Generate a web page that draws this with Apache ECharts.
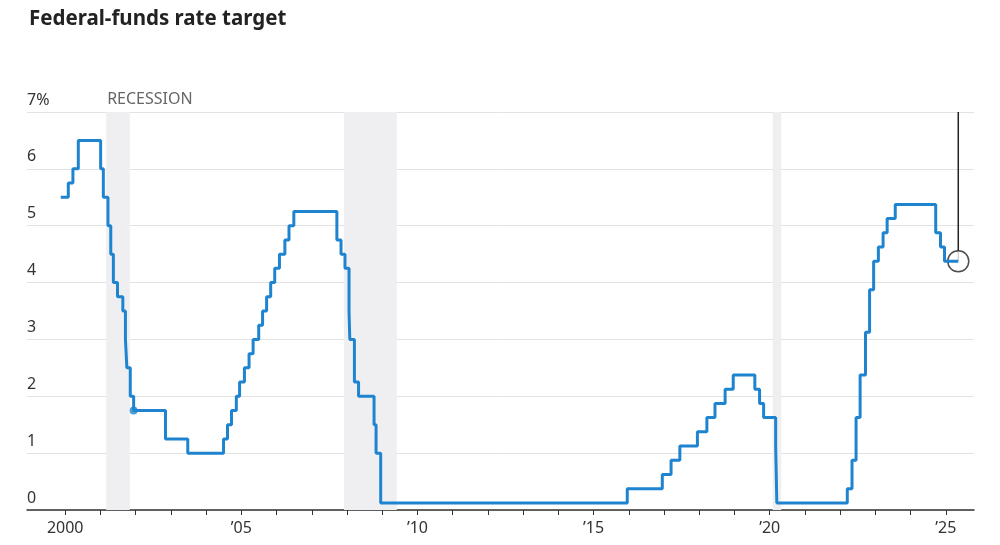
<!DOCTYPE html>
<html>
<head>
<meta charset="utf-8">
<title>Federal-funds rate target</title>
<script src="https://cdn.jsdelivr.net/npm/echarts@6/dist/echarts.min.js"></script>
<style>
  html, body { margin: 0; padding: 0; background: #fff; }
  #chart { width: 1000px; height: 545px; }
</style>
</head>
<body>
<div id="chart"></div>
<script>
// dates when the target changed, and the rate (midpoint of range after 2008) from that date on
var changeDates = [
    '1999-11-16', '2000-02-02', '2000-03-21', '2000-05-16',
    '2001-01-03', '2001-01-31', '2001-03-20', '2001-04-18', '2001-05-15', '2001-06-27',
    '2001-08-21', '2001-09-17', '2001-10-02', '2001-11-06', '2001-12-11',
    '2002-11-06', '2003-06-25',
    '2004-06-30', '2004-08-10', '2004-09-21', '2004-11-10', '2004-12-14',
    '2005-02-02', '2005-03-22', '2005-05-03', '2005-06-30', '2005-08-09', '2005-09-20',
    '2005-11-01', '2005-12-13', '2006-01-31', '2006-03-28', '2006-05-10', '2006-06-29',
    '2007-09-18', '2007-10-31', '2007-12-11', '2008-01-22', '2008-01-30', '2008-03-18',
    '2008-04-30', '2008-10-08', '2008-10-29', '2008-12-16',
    '2015-12-16', '2016-12-14', '2017-03-15', '2017-06-14', '2017-12-13',
    '2018-03-21', '2018-06-13', '2018-09-26', '2018-12-19',
    '2019-07-31', '2019-09-18', '2019-10-30', '2020-03-03', '2020-03-15',
    '2022-03-16', '2022-05-04', '2022-06-15', '2022-07-27', '2022-09-21', '2022-11-02',
    '2022-12-14', '2023-02-01', '2023-03-22', '2023-05-03', '2023-07-26',
    '2024-09-18', '2024-11-07', '2024-12-18', '2025-05-10'
];
var targetRates = [
    5.5, 5.75, 6.0, 6.5,
    6.0, 5.5, 5.0, 4.5, 4.0, 3.75,
    3.5, 3.0, 2.5, 2.0, 1.75,
    1.25, 1.0,
    1.25, 1.5, 1.75, 2.0, 2.25,
    2.5, 2.75, 3.0, 3.25, 3.5, 3.75,
    4.0, 4.25, 4.5, 4.75, 5.0, 5.25,
    4.75, 4.5, 4.25, 3.5, 3.0, 2.25,
    2.0, 1.5, 1.0, 0.125,
    0.375, 0.625, 0.875, 1.125, 1.375,
    1.625, 1.875, 2.125, 2.375,
    2.125, 1.875, 1.625, 1.125, 0.125,
    0.375, 0.875, 1.625, 2.375, 3.125, 3.875,
    4.375, 4.625, 4.875, 5.125, 5.375,
    4.875, 4.625, 4.375, 4.375
];

var recessionStarts = ['2001-03-01', '2007-12-01', '2020-02-01'];
var recessionEnds = ['2001-11-01', '2009-06-01', '2020-04-30'];

var tickYears = [2000, 2001, 2002, 2003, 2004, 2005, 2006, 2007, 2008, 2009, 2010, 2011, 2012,
    2013, 2014, 2015, 2016, 2017, 2018, 2019, 2020, 2021, 2022, 2023, 2024, 2025];
var labelYears = [2000, 2005, 2010, 2015, 2020, 2025];
var labelTexts = ['2000', '\u201905', '\u201910', '\u201915', '\u201920', '\u201925'];

var axisStart = '1998-12-01';
var axisEnd = '2025-10-20';

var dotDate = '2001-12-11';
var dotRate = 1.75;
var yTop = 7;

// date string -> fractional year, so the x axis can be a plain value axis
function toYear(s) {
    var p = s.split('-').map(Number);
    var t = Date.UTC(p[0], p[1] - 1, p[2]);
    var a = Date.UTC(p[0], 0, 1);
    var b = Date.UTC(p[0] + 1, 0, 1);
    return p[0] + (t - a) / (b - a);
}

var rateData = changeDates.map(function (d, i) { return [toYear(d), targetRates[i]]; });
var latestX = toYear(changeDates[changeDates.length - 1]);
var latestRate = targetRates[targetRates.length - 1];

var areas = recessionStarts.map(function (s, i) {
    var a = [{ xAxis: toYear(s) }, { xAxis: toYear(recessionEnds[i]) }];
    if (i === 0) {
        a[0].label = {
            show: true,
            position: [1, -21],
            formatter: 'RECESSION',
            color: '#666',
            fontSize: 16,
            fontFamily: 'Noto Sans'
        };
    }
    return a;
});

var myChart = echarts.init(document.getElementById('chart'));

var option = {
    animation: false,
    title: {
        text: 'Federal-funds rate target',
        left: 24,
        top: 4,
        textStyle: {
            fontFamily: 'Noto Sans',
            fontWeight: 'bold',
            fontSize: 20.5,
            color: '#222'
        }
    },
    grid: {
        left: 27,
        right: 26,
        top: 112,
        bottom: 35
    },
    xAxis: {
        type: 'value',
        min: toYear(axisStart),
        max: toYear(axisEnd),
        axisLine: { lineStyle: { color: '#333', width: 1.5 } },
        axisTick: {
            show: true,
            length: 5,
            customValues: tickYears,
            lineStyle: { color: '#333', width: 1 }
        },
        axisLabel: {
            customValues: labelYears,
            formatter: function (v) {
                var k = labelYears.indexOf(Math.round(v));
                return k >= 0 ? labelTexts[k] : '';
            },
            margin: 10,
            color: '#333',
            fontSize: 16,
            fontFamily: 'Noto Sans'
        },
        splitLine: { show: false }
    },
    yAxis: {
        type: 'value',
        min: 0,
        max: yTop,
        interval: 1,
        axisLine: { show: false },
        axisTick: { show: false },
        axisLabel: {
            inside: true,
            margin: 0,
            verticalAlign: 'bottom',
            padding: [0, 0, 4, 0],
            color: '#333',
            fontSize: 16,
            fontFamily: 'Noto Sans',
            formatter: function (v) { return v === yTop ? v + '%' : String(v); }
        },
        splitLine: { lineStyle: { color: '#e2e2e2', width: 1 } }
    },
    series: [
        {
            name: 'pointer',
            type: 'line',
            z: 2,
            silent: true,
            symbol: 'none',
            data: [[latestX, yTop], [latestX, latestRate]],
            lineStyle: { color: '#222', width: 1.5 }
        },
        {
            name: 'latest',
            type: 'scatter',
            z: 3,
            silent: true,
            symbol: 'circle',
            symbolSize: 21,
            data: [[latestX, latestRate]],
            itemStyle: { color: '#fff', borderColor: '#222', borderWidth: 1.5 }
        },
        {
            name: 'Federal-funds rate target',
            type: 'line',
            z: 5,
            step: 'end',
            symbol: 'none',
            data: rateData,
            lineStyle: { color: '#1e84cf', width: 3 },
            markArea: {
                silent: true,
                itemStyle: { color: '#efeff2' },
                data: areas
            }
        },
        {
            name: 'dot',
            type: 'scatter',
            z: 6,
            symbolSize: 8,
            data: [[toYear(dotDate), dotRate]],
            itemStyle: { color: '#1e84cf' }
        }
    ]
};
myChart.setOption(option);
</script>
</body>
</html>
